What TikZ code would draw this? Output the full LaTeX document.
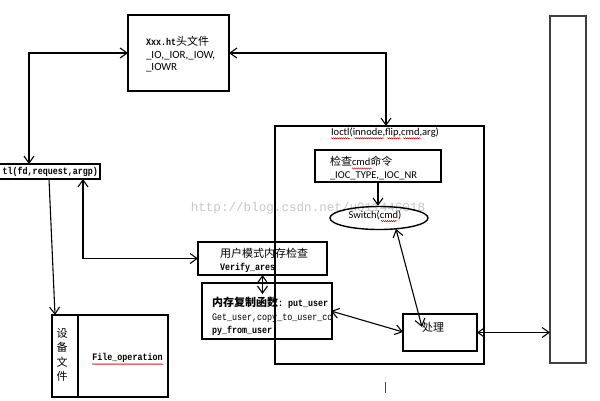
\documentclass[tikz,border=0pt]{standalone}
\usepackage{fontspec}
\setmainfont{Carlito}
\newfontfamily\cjk{Noto Sans CJK SC}
\newfontfamily\mono{Liberation Mono}[Scale=0.9, FakeStretch=0.845]
\newfontfamily\wmfont{Liberation Mono}
\usetikzlibrary{arrows.meta,shapes.geometric,decorations.pathmorphing}
\tikzset{
  box/.style={draw, line width=1.4pt, inner sep=0pt, outer sep=0pt, rectangle},
  conn/.style={line width=1.1pt, {Straight Barb[length=7pt,width=10pt]}-{Straight Barb[length=7pt,width=10pt]}},
  conn1/.style={line width=1.1pt, -{Straight Barb[length=7pt,width=10pt]}},
  txt/.style={inner sep=0pt, outer sep=0pt, align=left, font=\fontsize{11}{13}\selectfont},
  sm/.style={inner sep=0pt, outer sep=0pt, align=left, font=\fontsize{10.5}{12.5}\selectfont},
  squig/.style={red!80!black, line width=0.45pt, decorate, decoration={snake, amplitude=0.6pt, segment length=2pt}},
}
\begin{document}
\begin{tikzpicture}[x=1pt,y=-1pt]
\useasboundingbox (0,0) rectangle (600,400);
\clip (0,0) rectangle (600,400);
\fill[white] (0,0) rectangle (600,400);
% watermark
\node[inner sep=0pt, text=black!22, font=\wmfont\fontsize{12.6}{14}\selectfont] (wm) at (308,208) {http://blog.csdn.net/u011446018};
% header box
\node[box, minimum width=101, minimum height=76] (xxx) at (178.5,53) {};
\node[txt, anchor=west, font=\fontsize{11}{12.5}\selectfont] (xxxt) at (146,54.5) {{\mono\bfseries Xxx.ht}{\cjk 头文件}\\\_IO,\_IOR,\_IOW,\\\_IOWR};
% left ioctl box
\node[box, minimum width=120, minimum height=15] (lb) at (40,171.5) {};
\node[txt, anchor=east] (lbt) at (98,172) {\mono\bfseries tl(fd,request,argp)};
% user-mode check box
\node[box, minimum width=129, minimum height=33] (uc) at (262.5,258.5) {};
\node[txt, anchor=west] (uct) at (220,260.5) {{\cjk 用户模式内存检查}\\{\mono\bfseries Verify\_ares}};
% memcopy box
\node[box, minimum width=130, minimum height=56] (mc) at (267,311) {};
\node[txt, anchor=west, font=\fontsize{11}{13.5}\selectfont] (mct) at (212,316.5) {{\cjk\bfseries 内存复制函数}{\mono\bfseries :\ put\_user}\\{\mono Get\_user,copy\_to\_user\_co}\\{\mono\bfseries py\_from\_user}};
% big kernel box
\node[box, minimum width=209, minimum height=238] (big) at (379.5,245) {};
\node[sm] (bigt) at (385,132.5) {Ioctl(innode,flip,cmd,arg)};
% check cmd box
\node[box, minimum width=126, minimum height=32] (chk) at (378,166) {};
\node[sm, anchor=west] (chkt) at (330,168) {{\cjk\fontsize{11}{12.5}\selectfont 检查}cmd{\cjk\fontsize{11}{12.5}\selectfont 命令}\\\_IOC\_TYPE,\_IOC\_NR};
% switch ellipse
\node[draw, ellipse, line width=1.4pt, inner sep=0pt, minimum width=98pt, minimum height=23pt] (sw) at (379,218) {};
\node[sm] (swt) at (375,215.5) {Switch(cmd)};
% process box
\node[box, minimum width=74, minimum height=37] (cl) at (440,332.5) {};
\node[txt] (clt) at (433,327) {\cjk 处理};
% right tall box
\node[box, draw=black!75, minimum width=36, minimum height=347] (rt) at (568,189.5) {};
% device file box
\node[box, minimum width=26, minimum height=82] (devl) at (65,356) {};
\node[box, minimum width=90, minimum height=82] (devr) at (123,356) {};
\node[inner sep=0pt, align=center, font=\cjk\fontsize{11}{14.5}\selectfont] (devt) at (62,355) {设\\备\\文\\件};
\node[txt] (fop) at (127.5,358) {\mono\bfseries File\_operation};
% spell-check marks
\draw[squig] (bigt.south west) ++(0,1) -- ++(19,0);
\draw[squig] ([xshift=23pt]bigt.south west) ++(0,1) -- ++(30,0);
\draw[squig] ([xshift=56pt]bigt.south west) ++(0,1) -- ++(14,0);
\draw[squig] ([xshift=72pt]bigt.south west) ++(0,1) -- ++(18,0);
\draw[squig] (352,168.5) -- (372,168.5);
\draw[squig] (381,221) -- (397,221);
\draw[squig] (fop.south west) ++(0,1.5) -- ++(71,0);
% stray mark
\draw[black!70, line width=0.8pt] (385,382) -- (385,393);
% connector end points
\coordinate (lbin) at (29,164);
\coordinate (bigin) at (386,126);
\coordinate (lbo1) at (49,179);
\coordinate (devin) at (55,315);
\coordinate (lbo2) at (83,179);
\coordinate (mctop) at (262.5,294);
\coordinate (swb) at (396,229);
\coordinate (clin) at (422,327);
\coordinate (mcr) at (331,311);
\coordinate (clw) at (403,332);
% connectors
\draw[conn] (xxx.west) -| (lbin);
\draw[conn] (xxx.east) -| (bigin);
\draw[conn1] (lbo1) -- (devin);
\draw[conn] (lbo2) |- (uc.west);
\draw[conn] (uc.south) -- (mctop);
\draw[conn1] (chk.south) -- (chk.south |- sw.north);
\draw[conn] (swb) -- (clin);
\draw[conn] (mcr) -- (clw);
\draw[conn] (cl.east) -- (rt.west |- cl.east);
\end{tikzpicture}
\end{document}
